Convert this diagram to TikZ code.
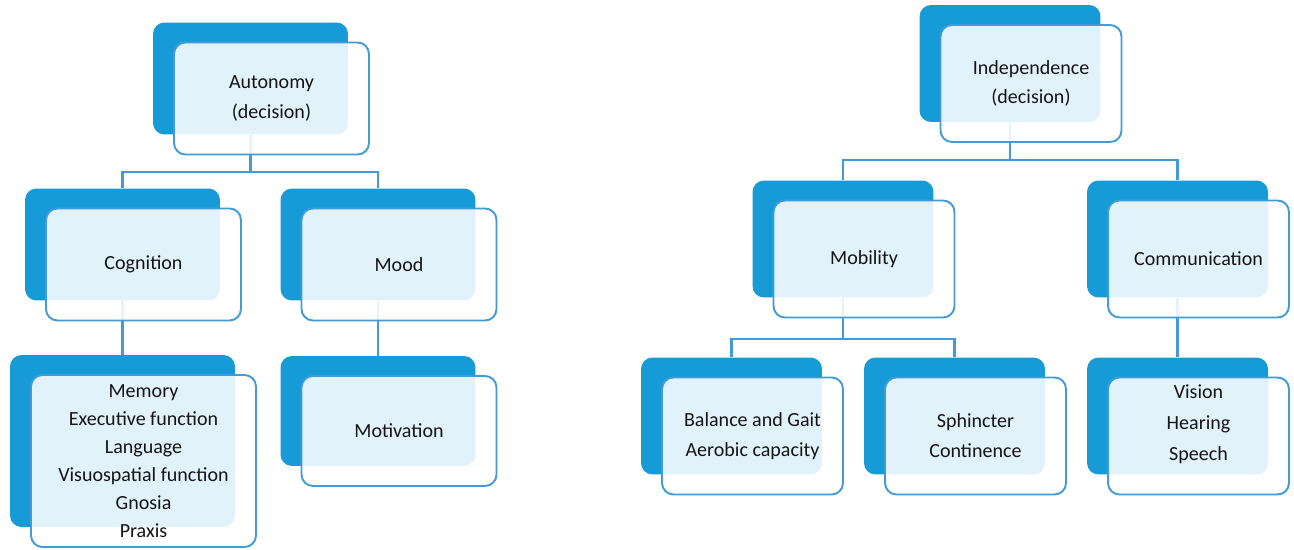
\documentclass[tikz,border=0pt]{standalone}
\usepackage{fontspec}
\setmainfont{Carlito}
\usepackage{tikz}
\usetikzlibrary{positioning}
\pgfdeclarelayer{background}
\pgfsetlayers{background,main}
\definecolor{boxblue}{RGB}{22,155,215}
\definecolor{edgeblue}{RGB}{66,155,214}
\definecolor{txt}{RGB}{20,20,20}

\begin{document}
\begin{tikzpicture}[x=0.02cm,y=-0.02cm,
  back/.style={fill=boxblue,rounded corners=6.5pt,inner sep=0pt},
  front/.style={draw=edgeblue,line width=1.1pt,fill=white,fill opacity=0.88,
    text opacity=1,text=txt,rounded corners=6.5pt,inner sep=0pt,align=center,
    font=\fontsize{11.4}{17}\selectfont},
  lbox/.style={minimum width=3.9cm,minimum height=2.24cm},
  rbox/.style={minimum width=3.62cm,minimum height=2.34cm},
  link/.style={draw=edgeblue,line width=1.2pt}]
\useasboundingbox (0,0) rectangle (1294,550);

% left tree
\node[back,lbox] (auto) at (250.5,78.5) {};
\node[front,lbox] (autoF) at ([shift={(21,20)}]auto.center) {Autonomy\\(decision)};
\node[back,lbox] (cog) at (122.5,244.5) {};
\node[front,lbox] (cogF) at ([shift={(21,20)}]cog.center) {Cognition};
\node[back,lbox] (mood) at (378,244.5) {};
\node[front,lbox] (moodF) at ([shift={(21,20)}]mood.center) {Mood};
\node[back,minimum width=4.5cm,minimum height=3.44cm] (mem) at (122.5,441) {};
\node[front,minimum width=4.5cm,minimum height=3.44cm,font=\fontsize{11.4}{15.9}\selectfont]
  (memF) at ([shift={(21,20)}]mem.center)
  {Memory\\Executive function\\Language\\Visuospatial function\\Gnosia\\Praxis};
\node[back,lbox,minimum height=2.2cm] (motiv) at (378,411) {};
\node[front,lbox,minimum height=2.2cm] (motivF) at ([shift={(21,20)}]motiv.center) {Motivation};

% right tree
\node[back,rbox] (indep) at (1010,63.5) {};
\node[front,rbox] (indepF) at ([shift={(21,20)}]indep.center) {Independence\\(decision)};
\node[back,rbox] (mob) at (843,239) {};
\node[front,rbox] (mobF) at ([shift={(21,20)}]mob.center) {Mobility};
\node[back,rbox] (comm) at (1177.5,239) {};
\node[front,rbox] (commF) at ([shift={(21,20)}]comm.center) {Communication};
\node[back,rbox] (bal) at (731.5,416) {};
\node[front,rbox] (balF) at ([shift={(21,20)}]bal.center) {Balance and Gait\\Aerobic capacity};
\node[back,rbox] (sph) at (954.5,416) {};
\node[front,rbox] (sphF) at ([shift={(21,20)}]sph.center) {Sphincter\\Continence};
\node[back,rbox] (vis) at (1177.5,416) {};
\node[front,rbox,font=\fontsize{11.4}{17.8}\selectfont,text depth=15.5pt]
  (visF) at ([shift={(21,20)}]vis.center) {Vision\\Hearing\\Speech};

% connectors behind the light boxes
\begin{pgfonlayer}{background}
  \draw[link] (auto.south) -- +(0,37) -| (cog.north);
  \draw[link] (auto.south) -- +(0,37) -| (mood.north);
  \draw[link] (cog.south) -- (mem.north);
  \draw[link] (mood.south) -- (motiv.north);
  \draw[link] (indep.south) -- +(0,38) -| (mob.north);
  \draw[link] (indep.south) -- +(0,38) -| (comm.north);
  \draw[link] (mob.south) -- +(0,41) -| (bal.north);
  \draw[link] (mob.south) -- +(0,41) -| (sph.north);
  \draw[link] (comm.south) -- (vis.north);
\end{pgfonlayer}
\end{tikzpicture}
\end{document}
